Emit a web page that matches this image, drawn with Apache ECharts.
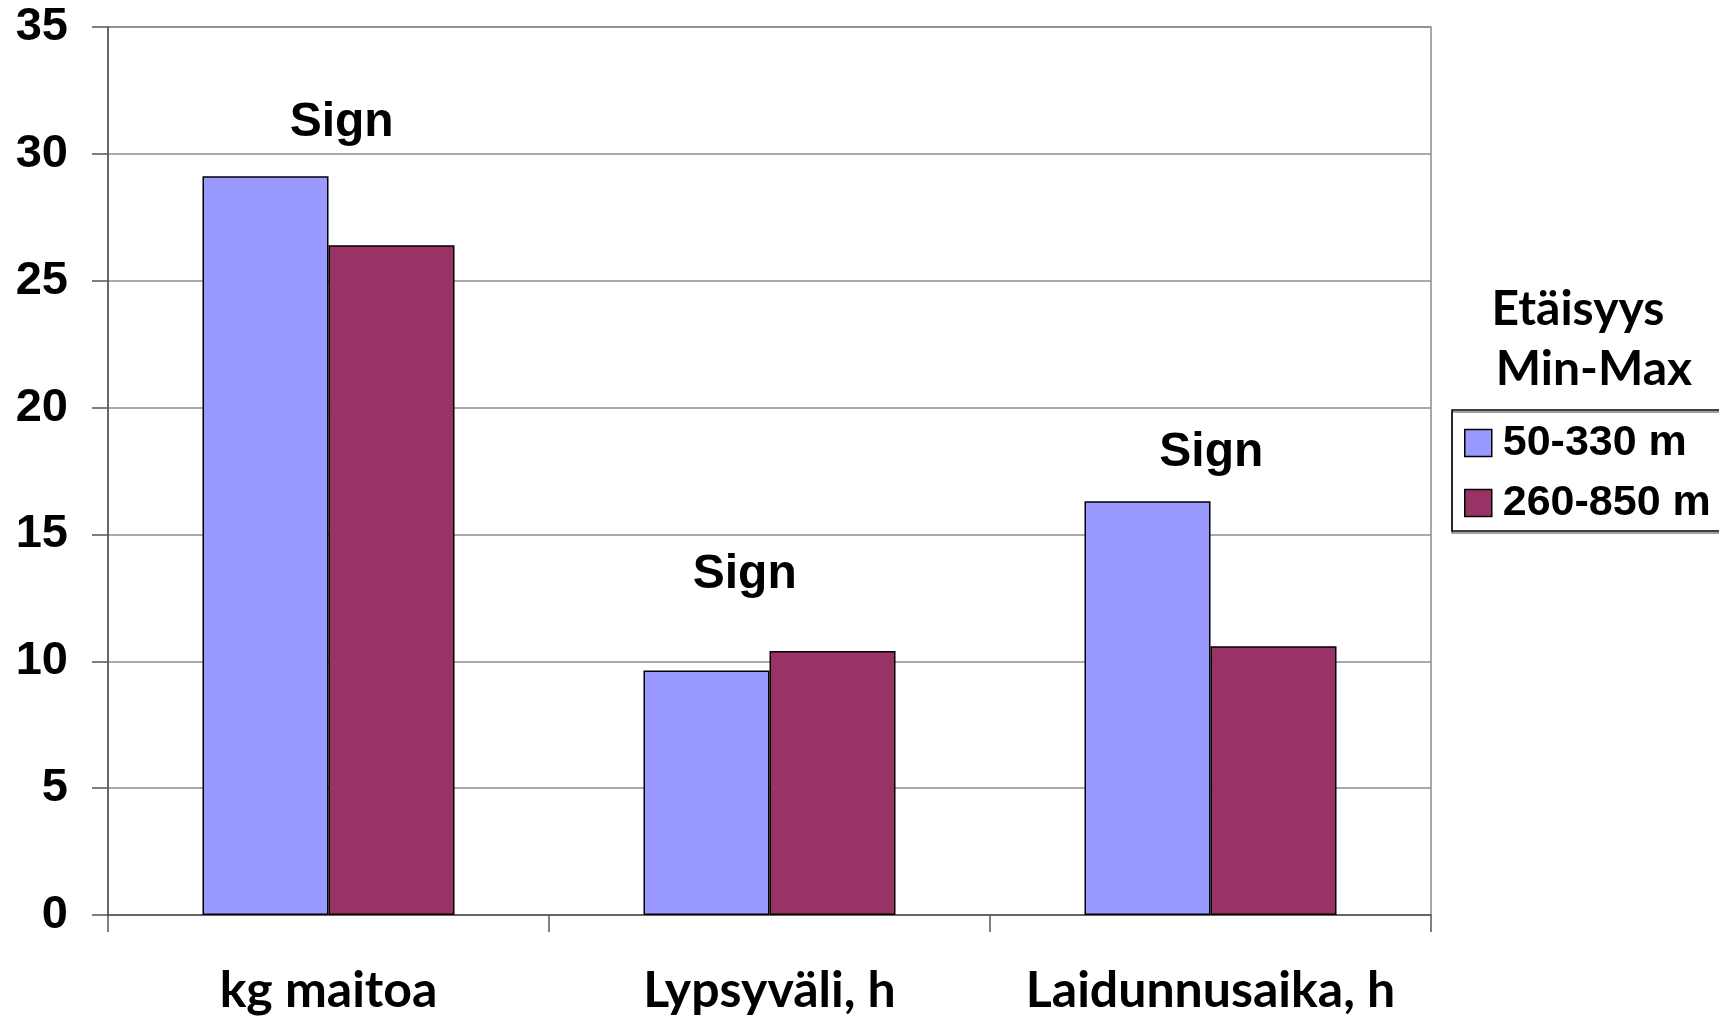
<!DOCTYPE html>
<html>
<head>
<meta charset="utf-8">
<script src="https://cdn.jsdelivr.net/npm/echarts@6/dist/echarts.min.js"></script>
<style>
html,body{margin:0;padding:0;background:#fff;}
#chart{width:1719px;height:1017px;}
</style>
</head>
<body>
<div id="chart"></div>
<script>
const categories = ['kg maitoa', 'Lypsyväli, h', 'Laidunnusaika, h'];
const seriesNames = ['50-330 m', '260-850 m'];
const near = [29.12, 9.64, 16.31];
const far = [26.40, 10.41, 10.59];
const signX = [0.531, 1.445, 2.503];
const signY = [31.2, 13.4, 18.18];
const signText = ['Sign', 'Sign', 'Sign'];
const yTicks = [0, 5, 10, 15, 20, 25, 30, 35];
const legendTitle = ['Etäisyys', 'Min-Max'];

const chart = echarts.init(document.getElementById('chart'));
const option = {
  animation: false,
  backgroundColor: '#fff',
  grid: {left: 108, right: 288, top: 27, bottom: 102, show: true, borderColor: '#8c8c8c', borderWidth: 1.5},
  legend: {
    data: seriesNames,
    orient: 'vertical',
    left: 1452, top: 410,
    padding: [11, 24, 6, 12],
    itemWidth: 27, itemHeight: 27, itemGap: 16,
    borderColor: '#000', borderWidth: 1.5,
    shadowColor: 'rgba(0,0,0,0.5)', shadowOffsetX: 0, shadowOffsetY: 2, shadowBlur: 0,
    icon: 'rect',
    itemStyle: {borderColor: '#000', borderWidth: 1.5},
    textStyle: {fontFamily: 'Liberation Sans', fontWeight: 'bold', fontSize: 43, lineHeight: 44, color: '#000', padding: [0, 0, 0, 6]}
  },
  graphic: [
    {type: 'text', x: 1578, y: 310, style: {text: legendTitle[0], font: 'bold 48px Lato', fill: '#000', textAlign: 'center', textVerticalAlign: 'middle'}},
    {type: 'text', x: 1594, y: 370, style: {text: legendTitle[1], font: 'bold 48px Lato', fill: '#000', textAlign: 'center', textVerticalAlign: 'middle'}}
  ],
  xAxis: [
    {
      type: 'category', data: categories, boundaryGap: true,
      axisLine: {lineStyle: {color: '#555', width: 1.5}},
      axisTick: {show: true, length: 17, alignWithLabel: false, lineStyle: {color: '#555', width: 1.5}},
      axisLabel: {interval: 0, margin: 51, fontFamily: 'Lato', fontWeight: 'bold', fontSize: 50, color: '#000'},
      splitLine: {show: false}
    },
    {type: 'value', min: 0, max: 3, show: false}
  ],
  yAxis: {
    type: 'value', min: 0, max: 35, interval: 5,
    axisLine: {show: true, lineStyle: {color: '#555', width: 1.5}},
    axisTick: {show: true, length: 16, lineStyle: {color: '#555', width: 1.5}},
    axisLabel: {margin: 40, fontFamily: 'Liberation Sans', fontWeight: 'bold', fontSize: 47, color: '#000',
      formatter: v => yTicks.includes(v) ? String(v) : ''},
    splitLine: {show: true, lineStyle: {color: '#8c8c8c', width: 1.5}}
  },
  series: [
    {name: seriesNames[0], type: 'bar', data: near, barGap: '0%', barCategoryGap: '42.857%',
      itemStyle: {color: '#9999FF', borderColor: '#000', borderWidth: 1.5}},
    {name: seriesNames[1], type: 'bar', data: far, barGap: '0%', barCategoryGap: '42.857%',
      itemStyle: {color: '#993366', borderColor: '#000', borderWidth: 1.5}},
    {name: 'sign', type: 'scatter', xAxisIndex: 1, symbolSize: 1, silent: true,
      itemStyle: {opacity: 0},
      data: signX.map((x, i) => [x, signY[i], signText[i]]),
      label: {show: true, position: [0, 0], align: 'center', verticalAlign: 'middle', opacity: 1,
        formatter: p => p.data[2],
        fontFamily: 'Liberation Sans', fontWeight: 'bold', fontSize: 48, color: '#000'}}
  ]
};
chart.setOption(option);
</script>
</body>
</html>
